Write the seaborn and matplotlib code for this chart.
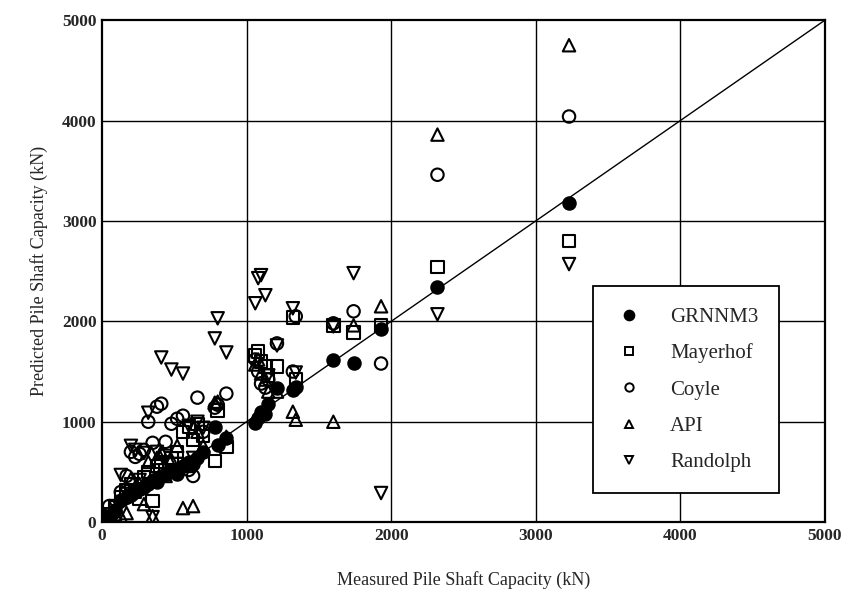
import matplotlib
matplotlib.use("Agg")
import matplotlib.pyplot as plt
import seaborn as sns

# measured shaft capacity (kN), one entry per pile
measured = [20, 50, 90, 130, 170, 200, 230, 260, 290, 320, 350, 380, 410, 440,
            480, 520, 560, 600, 630, 660, 700, 780, 800, 860, 1060, 1080, 1100,
            1130, 1150, 1210, 1320, 1340, 1600, 1740, 1930, 2320, 3230]

# predicted shaft capacity (kN) for each method, same pile order
grnnm3 = [20, 60, 120, 220, 250, 270, 300, 330, 350, 380, 420, 400, 460, 480,
          520, 480, 560, 600, 580, 640, 700, 950, 770, 840, 990, 1040, 1100,
          1080, 1180, 1340, 1320, 1350, 1610, 1590, 1920, 2340, 3180]
mayerhof = [10, 80, 150, 250, 320, 380, 300, 230, 450, 500, 210, 560, 600, 520,
            640, 700, 900, 950, 820, 980, 860, 610, 1110, 750, 1660, 1700, 1600,
            1550, 1460, 1550, 2040, 1420, 1960, 1890, 1960, 2540, 2800]
coyle = [60, 160, 100, 300, 460, 700, 650, 680, 720, 1000, 790, 1150, 1180, 800,
         980, 1030, 1060, 520, 460, 1240, 900, 1140, 1170, 1280, 1620, 1500, 1380,
         1340, 1420, 1780, 1500, 2050, 1980, 2100, 1580, 3460, 4040]
api = [0, 30, 80, 60, 90, 430, 350, 380, 180, 600, 60, 640, 700, 460,
       620, 760, 140, 560, 160, 900, 760, 1190, 1200, 850, 1570, 1620, 1480,
       1420, 1300, 1300, 1100, 1020, 1000, 1960, 2150, 3860, 4750]
randolph = [0, 40, 160, 470, 280, 760, 720, 420, 690, 1090, 50, 700, 1640, 660,
            1520, 580, 1480, 960, 640, 1000, 940, 1830, 2030, 1690, 2180, 2430, 2460,
            2260, 1460, 1760, 2130, 1490, 1950, 2480, 290, 2070, 2570]

methods = ["GRNNM3", "Mayerhof", "Coyle", "API", "Randolph"]
series = [grnnm3, mayerhof, coyle, api, randolph]
markers = ["o", "s", "o", "^", "v"]
filled = [True, False, False, False, False]

sns.set_theme(style="white")
plt.rcParams["font.family"] = ["Liberation Serif", "DejaVu Serif"]

fig = plt.figure(figsize=(8.45, 5.92), dpi=100)
ax = fig.add_axes([0.1207, 0.118, 0.8556, 0.848])

# grid and 1:1 line
for v in range(1000, 5000, 1000):
    ax.axvline(v, color="black", lw=1.0, zorder=1)
    ax.axhline(v, color="black", lw=1.0, zorder=1)
sns.lineplot(x=[0, 5000], y=[0, 5000], color="black", lw=1.0, ax=ax, zorder=2)

handles = []
for name, vals, mk, fl in zip(methods, series, markers, filled):
    sns.scatterplot(x=measured, y=vals, marker=mk, s=80, ax=ax, zorder=3,
                    facecolor="black" if fl else "none",
                    edgecolor="black", linewidth=1.5)
    handles.append(plt.Line2D([], [], ls="", marker=mk, markersize=7 if fl else 6,
                              markerfacecolor="black" if fl else "white",
                              markeredgecolor="black", markeredgewidth=1.4,
                              label=name))

ax.set_xlim(0, 5000)
ax.set_ylim(0, 5000)
ticks = [0, 1000, 2000, 3000, 4000, 5000]
ax.set_xticks(ticks)
ax.set_yticks(ticks)
ax.set_xticklabels([str(t) for t in ticks], fontsize=12.5, fontweight="bold")
ax.set_yticklabels([str(t) for t in ticks], fontsize=12.5, fontweight="bold")
ax.tick_params(length=0, pad=4)
for s in ax.spines.values():
    s.set_color("black")
    s.set_linewidth(1.6)

ax.set_xlabel("Measured Pile Shaft Capacity (kN)", fontsize=13, labelpad=20)
ax.set_ylabel("Predicted Pile Shaft Capacity (kN)", fontsize=13, labelpad=10)

leg = ax.legend(handles=handles, loc="lower left", bbox_to_anchor=(0.679, 0.058),
                fontsize=15, frameon=True, fancybox=False, framealpha=1,
                edgecolor="black", borderpad=1.0, labelspacing=0.8,
                handletextpad=1.2, handlelength=1.5, borderaxespad=0)
leg.get_frame().set_linewidth(1.3)
leg.set_zorder(5)

fig.savefig("out.png", dpi=100)
